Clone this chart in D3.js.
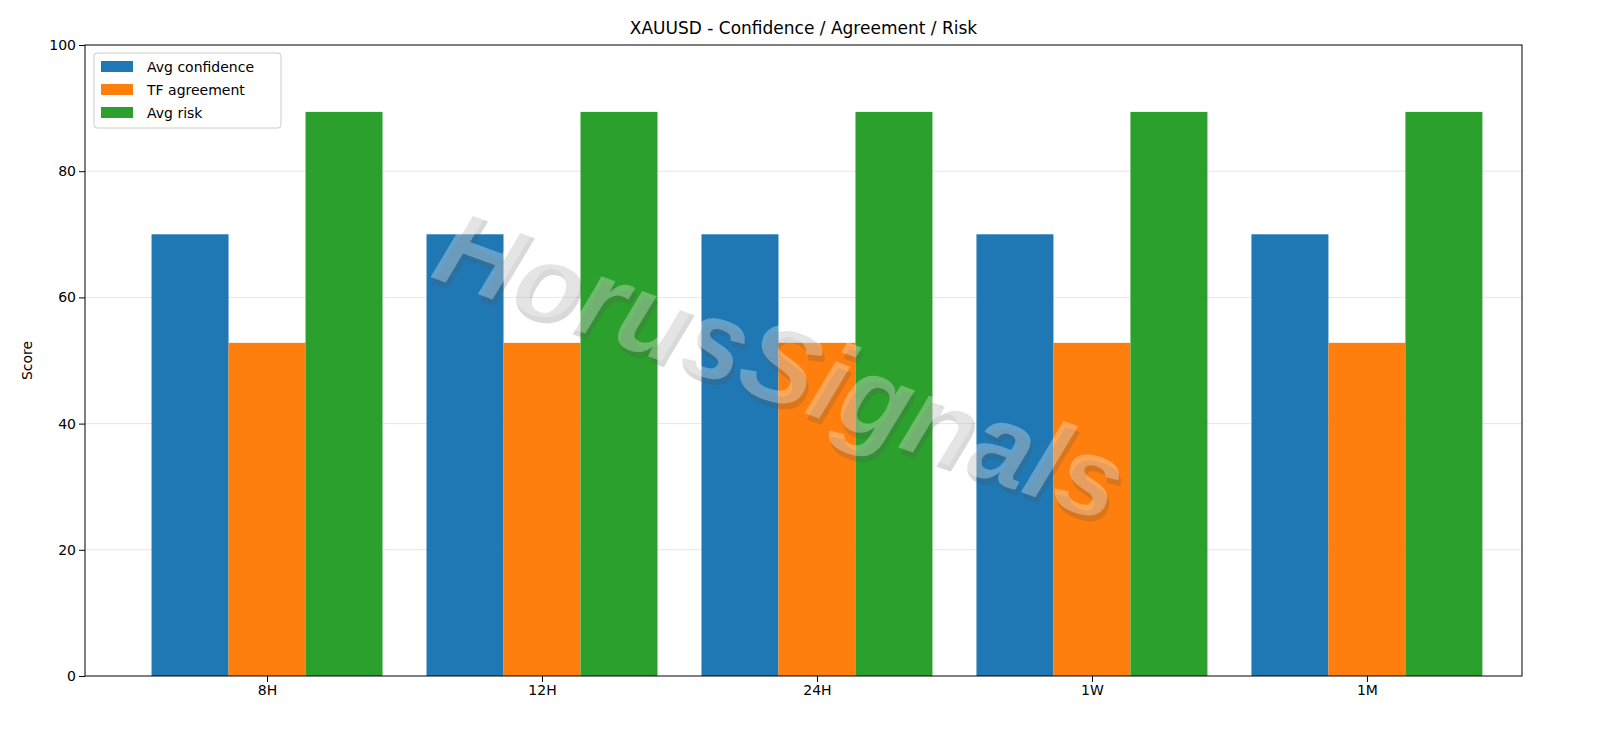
<!DOCTYPE html><html><head><meta charset="utf-8"><script src="https://cdn.jsdelivr.net/npm/d3@7"></script>
<style>body{margin:0;background:#fff}text{font-family:"DejaVu Sans",sans-serif}</style></head><body>
<svg id="c" width="1600" height="738"></svg>
<script>
const categories=["8H","12H","24H","1W","1M"];
const seriesNames=["Avg confidence","TF agreement","Avg risk"];
const colors=["#1f77b4","#ff7f0e","#2ca02c"];
const avgConfidence=[70,70,70,70,70];
const tfAgreement=[52.8,52.8,52.8,52.8,52.8];
const avgRisk=[89.4,89.4,89.4,89.4,89.4];
const yTicks=[0,20,40,60,80,100];
const series=[avgConfidence,tfAgreement,avgRisk];
const svg=d3.select("#c");
const L=85,R=1522,T=45,B=676;
const x=d3.scaleLinear().domain([-0.662,4.564]).range([L,R]);
const y=d3.scaleLinear().domain([0,100]).range([B,T]);
const w=0.28;
svg.append("g").selectAll("line").data(yTicks.slice(1,-1)).join("line")
 .attr("x1",L).attr("x2",R).attr("y1",d=>y(d)).attr("y2",d=>y(d)).attr("stroke","#e6e6e6");
series.forEach((s,k)=>{
 svg.append("g").selectAll("rect").data(s).join("rect")
  .attr("x",(d,i)=>x(i+(k-1)*w-w/2)).attr("width",x(w)-x(0))
  .attr("y",d=>y(d)).attr("height",d=>B-y(d)).attr("fill",colors[k]);
});
const wm=svg.append("g").attr("transform","translate(778,372) rotate(20)");
wm.append("text").attr("x",4).attr("y",5).attr("text-anchor","middle").attr("dominant-baseline","middle")
 .attr("font-size",112).attr("font-style","italic").attr("font-weight","bold").style("font-family","Liberation Sans").attr("fill","#555").attr("opacity",0.22).text("HorusSignals");
wm.append("text").attr("text-anchor","middle").attr("dominant-baseline","middle")
 .attr("font-size",112).attr("font-style","italic").attr("font-weight","bold").style("font-family","Liberation Sans").attr("fill","#fff").attr("opacity",0.3).text("HorusSignals");
const ax=svg.append("g").attr("transform",`translate(0,${B})`).call(d3.axisBottom(x).tickValues(d3.range(categories.length)).tickFormat(i=>categories[i]).tickSizeOuter(0));
const ay=svg.append("g").attr("transform",`translate(${L},0)`).call(d3.axisLeft(y).tickValues(yTicks).tickSizeOuter(0));
[ax,ay].forEach(a=>{a.select(".domain").remove();a.selectAll("text").attr("font-size",14).attr("fill","#000").style("font-family","DejaVu Sans");a.selectAll("line").attr("stroke","#000");});
svg.append("rect").attr("x",L).attr("y",T).attr("width",R-L).attr("height",B-T).attr("fill","none").attr("stroke","#000");
svg.append("text").attr("x",(L+R)/2).attr("y",34).attr("text-anchor","middle").attr("font-size",17).text("XAUUSD - Confidence / Agreement / Risk");
svg.append("text").attr("transform",`translate(32,${(T+B)/2}) rotate(-90)`).attr("text-anchor","middle").attr("font-size",14).text("Score");
const lg=svg.append("g");
lg.append("rect").attr("x",94).attr("y",53).attr("width",187).attr("height",75).attr("rx",3).attr("fill","#fff").attr("fill-opacity",0.8).attr("stroke","#ccc");
seriesNames.forEach((n,i)=>{
 lg.append("rect").attr("x",101).attr("y",61+i*23).attr("width",32).attr("height",11).attr("fill",colors[i]);
 lg.append("text").attr("x",147).attr("y",72+i*23).attr("font-size",14).text(n);
});
</script></body></html>
